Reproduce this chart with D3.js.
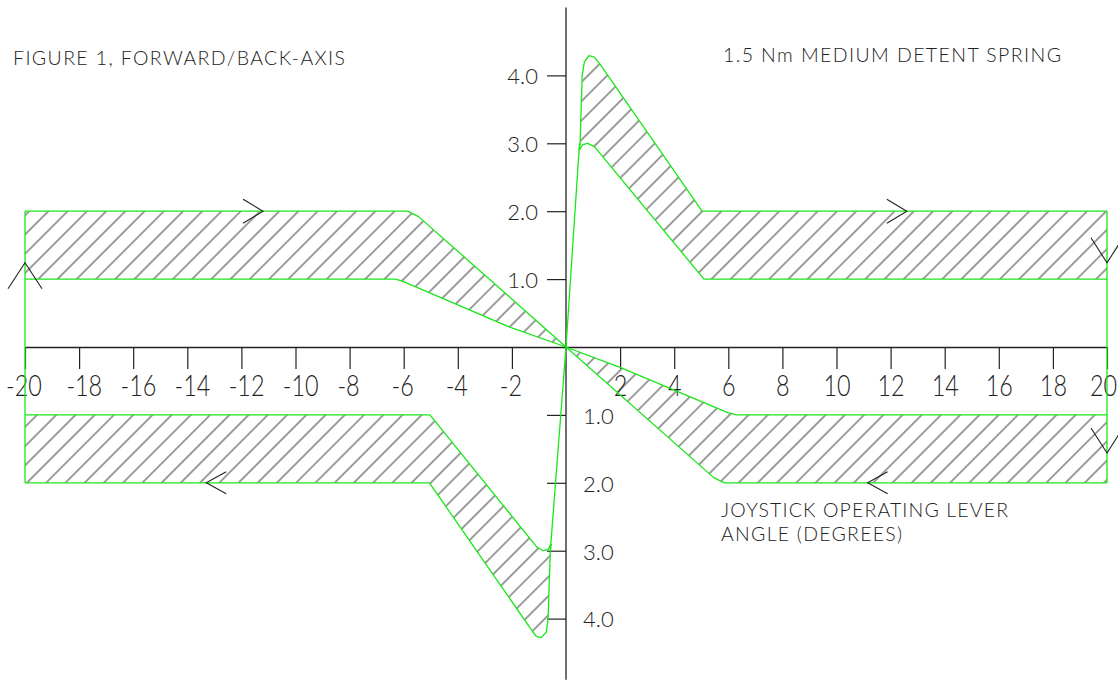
<!DOCTYPE html>
<html><head><meta charset="utf-8">
<script src="https://cdn.jsdelivr.net/npm/d3@7"></script>
<style>
html,body{margin:0;padding:0;background:#fff;overflow:hidden;}
svg{display:block;}
text{font-family:Lato,"Liberation Sans",sans-serif;font-weight:300;fill:#222;}
</style></head><body>
<svg id="chart" width="1118" height="688"></svg>
<script>
// ---------------- data ----------------
const xTickValues = [-20,-18,-16,-14,-12,-10,-8,-6,-4,-2,2,4,6,8,10,12,14,16,18,20];
const xTickLabels = ["-20","-18","-16","-14","-12","-10","-8","-6","-4","-2","2","4","6","8","10","12","14","16","18","20"];
const yTickValuesPos = [4,3,2,1];
const yTickLabelsPos = ["4.0","3.0","2.0","1.0"];
const yTickValuesNeg = [-1,-2,-3,-4];
const yTickLabelsNeg = ["1.0","2.0","3.0","4.0"];
const yAxisExtent = [-4.9, 5.0];

// forward stroke, upper-left band (torque vs angle)
const ulTop    = [[-20,2.0],[-5.85,2.0],[-5.45,1.92],[0,0]];
const ulBottom = [[-20,1.0],[-6.3,1.0],[-6.05,0.97],[-2.0,0.28],[0,0]];
// upper-right detent band
const urTop    = [[0.49,2.9],[0.52,3.0],[0.6,4.0],[0.68,4.2],[0.85,4.29],[1.05,4.27],[1.25,4.17],[5.03,2.0],[20,2.0]];
const urBottom = [[0.49,2.9],[0.62,2.98],[0.8,3.0],[1.05,2.95],[5.1,1.0],[20,1.0]];
// lower-left detent band
const llTop    = [[-0.55,-2.9],[-0.66,-2.98],[-0.84,-3.0],[-1.07,-2.95],[-5.03,-1.0],[-20,-1.0]];
const llBottom = [[-0.55,-2.9],[-0.58,-3.0],[-0.66,-4.0],[-0.73,-4.2],[-0.92,-4.28],[-1.1,-4.26],[-1.25,-4.18],[-5.05,-2.0],[-20,-2.0]];
// lower-right band
const lrTop    = [[0,0],[2.0,-0.3],[6.0,-0.97],[6.3,-1.0],[20,-1.0]];
const lrBottom = [[0,0],[5.45,-1.92],[5.85,-2.0],[20,-2.0]];
// steep detent line and end verticals
const centerLine = [[-0.58,-3.0],[0,0],[0.5,3.0]];
const leftEdge  = [[-20,-2.0],[-20,2.0]];
const rightEdge = [[20,-2.0],[20,2.0]];
// direction arrows
const arrowX   = [-11.2, 12.6, -13.3, 11.15, -20, 20, 20];
const arrowY   = [2.0, 2.0, -2.0, -2.0, 1.24, 1.24, -1.56];
const arrowDir = ["right","right","left","left","up","down","down"];

const titleLeft  = "FIGURE 1, FORWARD/BACK-AXIS";
const titleRight = "1.5 Nm MEDIUM DETENT SPRING";
const axisNote   = ["JOYSTICK OPERATING LEVER", "ANGLE (DEGREES)"];

// ---------------- drawing ----------------
const svg = d3.select("#chart");
const x = d3.scaleLinear().domain([-20, 20]).range([25, 1107]);
const y = d3.scaleLinear().domain([-4, 4]).range([618.6, 75.4]);
const GREEN = "#18e818", INK = "#222", HATCH = "#3a3a3a";

const defs = svg.append("defs");
const pat = defs.append("pattern").attr("id","hatch")
  .attr("patternUnits","userSpaceOnUse").attr("width",13.6).attr("height",13.6)
  .attr("patternTransform","rotate(45)");
pat.append("line").attr("x1",6.8).attr("y1",-1).attr("x2",6.8).attr("y2",14.6)
  .attr("stroke",HATCH).attr("stroke-width",1);

const line = d3.line().x(d => x(d[0])).y(d => y(d[1]));

// hatched regions
const bands = [[ulTop, ulBottom],[urTop, urBottom],[llTop, llBottom],[lrTop, lrBottom]];
svg.append("g").selectAll("path").data(bands).join("path")
  .attr("d", b => line(b[0].concat(b[1].slice().reverse())) + "Z")
  .attr("fill","url(#hatch)").attr("stroke","none");

// x axis
const xAxis = d3.axisBottom(x).tickValues(xTickValues)
  .tickFormat((d,i) => xTickLabels[i]).tickSize(22).tickPadding(6).tickSizeOuter(0);
const gx = svg.append("g").attr("transform", `translate(0,${y(0)})`).call(xAxis);
gx.select(".domain").attr("stroke", INK).attr("stroke-width", 1.3);
gx.selectAll(".tick line").attr("stroke", INK).attr("stroke-width", 1.2);
gx.selectAll(".tick text")
  .attr("font-size", 30).attr("fill", INK)
  .attr("font-family", null)
  .attr("transform", "scale(0.78,1)")
  .attr("dx", d => (d <= -10 && d > -20) ? 6 : (d < 0 ? -2 : (d === 20 ? -5 : 0)));

// y axis line
svg.append("line")
  .attr("x1", x(0)).attr("x2", x(0))
  .attr("y1", y(yAxisExtent[1])).attr("y2", y(yAxisExtent[0]))
  .attr("stroke", INK).attr("stroke-width", 1.3);

const yPos = d3.axisLeft(y).tickValues(yTickValuesPos)
  .tickFormat((d,i) => yTickLabelsPos[i]).tickSize(19).tickPadding(9).tickSizeOuter(0);
const gyp = svg.append("g").attr("transform", `translate(${x(0)},0)`).call(yPos);
const yNeg = d3.axisRight(y).tickValues(yTickValuesNeg)
  .tickFormat((d,i) => yTickLabelsNeg[i]).tickSize(-19).tickPadding(17).tickSizeOuter(0);
const gyn = svg.append("g").attr("transform", `translate(${x(0)},0)`).call(yNeg);
[gyp, gyn].forEach(g => {
  g.select(".domain").remove();
  g.selectAll(".tick line").attr("stroke", INK).attr("stroke-width", 1.2);
  g.selectAll(".tick text").attr("font-size", 22).attr("fill", INK).attr("font-family", null).attr("dy","0.38em");
});

// green curves
const greenPaths = [ulTop, ulBottom, urTop, urBottom, llTop, llBottom, lrTop, lrBottom, centerLine, leftEdge, rightEdge];
svg.append("g").selectAll("path").data(greenPaths).join("path")
  .attr("d", line).attr("fill","none").attr("stroke",GREEN).attr("stroke-width",1.3)
  .attr("stroke-linejoin","round");

// arrows
const armShape = {
  right: [[-20,-12],[-20,12]],
  left:  [[20,-11],[20,11]],
  up:    [[-17,26],[17,26]],
  down:  [[-16,-25],[16,-25]]
};
svg.append("g").selectAll("path").data(arrowX.map((v,i)=>i)).join("path")
  .attr("d", i => {
    const tx = x(arrowX[i]), ty = y(arrowY[i]);
    const a = armShape[arrowDir[i]];
    return `M${tx+a[0][0]},${ty+a[0][1]}L${tx},${ty}L${tx+a[1][0]},${ty+a[1][1]}`;
  })
  .attr("fill","none").attr("stroke",INK).attr("stroke-width",1.1);

// texts
svg.append("text").attr("x",13).attr("y",65).attr("font-size",19.5)
  .attr("textLength",332).attr("lengthAdjust","spacing").text(titleLeft);
svg.append("text").attr("x",723).attr("y",62).attr("font-size",19.5)
  .attr("textLength",338).attr("lengthAdjust","spacing").text(titleRight);
svg.append("text").attr("x",721).attr("y",517).attr("font-size",19.5)
  .attr("textLength",287).attr("lengthAdjust","spacing").text(axisNote[0]);
svg.append("text").attr("x",721).attr("y",541).attr("font-size",19.5)
  .attr("textLength",181).attr("lengthAdjust","spacing").text(axisNote[1]);
</script>
</body></html>
